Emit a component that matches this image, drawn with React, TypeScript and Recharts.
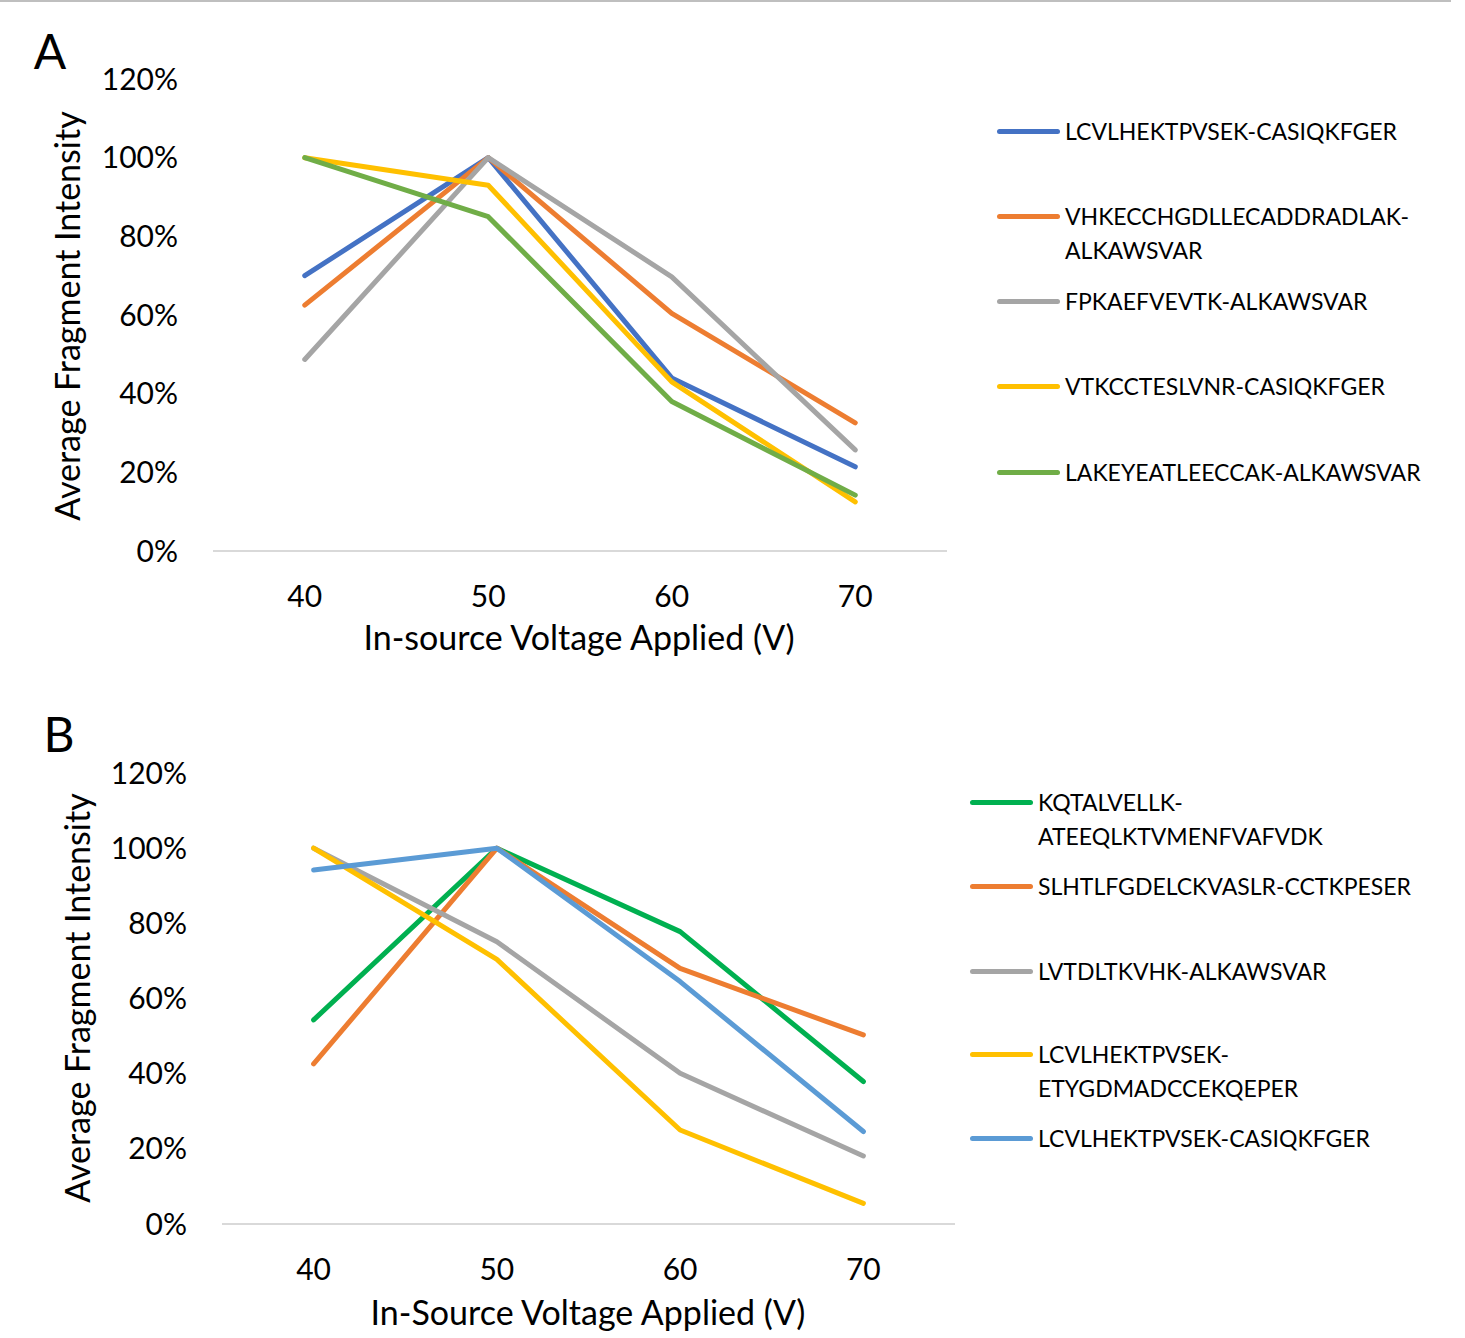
import React from 'react';
import { LineChart, Line, XAxis, YAxis } from 'recharts';

// ---------- DATA ----------
const voltages = [40, 50, 60, 70];
const yTicks = [0, 0.2, 0.4, 0.6, 0.8, 1.0, 1.2];

const namesA = [
  'LCVLHEKTPVSEK-CASIQKFGER',
  'VHKECCHGDLLECADDRADLAK-ALKAWSVAR',
  'FPKAEFVEVTK-ALKAWSVAR',
  'VTKCCTESLVNR-CASIQKFGER',
  'LAKEYEATLEECCAK-ALKAWSVAR',
];
const legendLinesA = [
  ['LCVLHEKTPVSEK-CASIQKFGER'],
  ['VHKECCHGDLLECADDRADLAK-', 'ALKAWSVAR'],
  ['FPKAEFVEVTK-ALKAWSVAR'],
  ['VTKCCTESLVNR-CASIQKFGER'],
  ['LAKEYEATLEECCAK-ALKAWSVAR'],
];
const colorsA = ['#4472C4', '#ED7D31', '#A5A5A5', '#FFC000', '#70AD47'];
const a1 = [0.70, 1.0, 0.44, 0.214];
const a2 = [0.625, 1.0, 0.604, 0.326];
const a3 = [0.487, 1.0, 0.697, 0.257];
const a4 = [1.0, 0.93, 0.43, 0.125];
const a5 = [1.0, 0.85, 0.38, 0.142];
const seriesA = [a1, a2, a3, a4, a5];

const namesB = [
  'KQTALVELLK-ATEEQLKTVMENFVAFVDK',
  'SLHTLFGDELCKVASLR-CCTKPESER',
  'LVTDLTKVHK-ALKAWSVAR',
  'LCVLHEKTPVSEK-ETYGDMADCCEKQEPER',
  'LCVLHEKTPVSEK-CASIQKFGER',
];
const legendLinesB = [
  ['KQTALVELLK-', 'ATEEQLKTVMENFVAFVDK'],
  ['SLHTLFGDELCKVASLR-CCTKPESER'],
  ['LVTDLTKVHK-ALKAWSVAR'],
  ['LCVLHEKTPVSEK-', 'ETYGDMADCCEKQEPER'],
  ['LCVLHEKTPVSEK-CASIQKFGER'],
];
const colorsB = ['#00B050', '#ED7D31', '#A5A5A5', '#FFC000', '#5B9BD5'];
const b1 = [0.543, 1.0, 0.778, 0.379];
const b2 = [0.426, 1.0, 0.68, 0.503];
const b3 = [1.0, 0.751, 0.401, 0.181];
const b4 = [1.0, 0.704, 0.25, 0.055];
const b5 = [0.942, 1.0, 0.645, 0.246];
const seriesB = [b1, b2, b3, b4, b5];

const xTitleA = 'In-source Voltage Applied (V)';
const xTitleB = 'In-Source Voltage Applied (V)';
const yTitle = 'Average Fragment Intensity';

// ---------- helpers ----------
const buildRows = (series: number[][]) =>
  voltages.map((v, i) => {
    const row: any = { v };
    series.forEach((s, k) => (row['s' + k] = s[i]));
    return row;
  });

const FONT = 'Lato, "Open Sans", sans-serif';
const pct = (v: number) => `${Math.round(v * 100)}%`;

type PanelProps = {
  top: number;
  height: number;
  plotLeft: number;
  plotRight: number;
  plotTop: number;
  plotBottom: number;
  series: number[][];
  names: string[];
  colors: string[];
};

function Panel({ top, height, plotLeft, plotRight, plotTop, plotBottom, series, names, colors }: PanelProps) {
  const W = 1465;
  const xAxisH = 70;
  const data = buildRows(series);
  const bandHalf = (plotRight - plotLeft) / voltages.length / 2;
  return (
    <div style={{ position: 'absolute', left: 0, top }}>
      <LineChart
        width={W}
        height={height}
        data={data}
        margin={{ top: plotTop, left: 0, right: W - plotRight, bottom: height - plotBottom - xAxisH }}
      >
        <XAxis
          dataKey="v"
          height={xAxisH}
          padding={{ left: bandHalf, right: bandHalf }}
          axisLine={{ stroke: '#D9D9D9', strokeWidth: 2 }}
          tickLine={false}
          tickSize={0}
          tickMargin={35}
          tick={{ fill: '#000', fontSize: 30, fontFamily: FONT }}
        />
        <YAxis
          width={plotLeft}
          domain={[0, 1.2]}
          ticks={yTicks}
          tickFormatter={pct}
          axisLine={false}
          tickLine={false}
          tickSize={0}
          tickMargin={35}
          tick={{ fill: '#000', fontSize: 30, fontFamily: FONT }}
        />
        {series.map((_, k) => (
          <Line
            key={k}
            dataKey={'s' + k}
            name={names[k]}
            stroke={colors[k]}
            strokeWidth={5}
            strokeLinecap="round"
            strokeLinejoin="round"
            dot={false}
            isAnimationActive={false}
          />
        ))}
      </LineChart>
    </div>
  );
}

function LegendBlock({ left, rowYs, lines, colors }: { left: number; rowYs: number[]; lines: string[][]; colors: string[] }) {
  const lh = 34;
  return (
    <>
      {lines.map((ls, k) => (
        <div key={k} style={{ position: 'absolute', left, top: rowYs[k] - lh / 2, display: 'flex', alignItems: 'flex-start' }}>
          <div style={{ width: 63, height: lh, position: 'relative' }}>
            <div style={{ position: 'absolute', left: 0, top: lh / 2 - 2.5, width: 63, height: 5, borderRadius: 3, background: colors[k] }} />
          </div>
          <div style={{ marginLeft: 5, fontFamily: FONT, fontSize: 23, lineHeight: lh + 'px', color: '#000', whiteSpace: 'nowrap' }}>
            {ls.map((t, i) => (
              <div key={i}>{t}</div>
            ))}
          </div>
        </div>
      ))}
    </>
  );
}

const centerText = (x: number, y: number, text: string, size: number, rotate = false) => (
  <div
    style={{
      position: 'absolute',
      left: x,
      top: y,
      transform: `translate(-50%, -50%)${rotate ? ' rotate(-90deg)' : ''}`,
      fontFamily: FONT,
      fontSize: size,
      lineHeight: 1,
      whiteSpace: 'nowrap',
      color: '#000',
    }}
  >
    {text}
  </div>
);

export default function App() {
  return (
    <div style={{ position: 'absolute', left: 0, top: 0, width: 1465, height: 1338, background: '#fff', overflow: 'hidden' }}>
      <div style={{ position: 'absolute', left: 0, top: 0, width: 1451, height: 2, background: '#BFBFBF' }} />

      <Panel top={0} height={680} plotLeft={213} plotRight={947} plotTop={79} plotBottom={551}
        series={seriesA} names={namesA} colors={colorsA} />
      <Panel top={690} height={648} plotLeft={222} plotRight={955} plotTop={83} plotBottom={534}
        series={seriesB} names={namesB} colors={colorsB} />

      {centerText(50, 51, 'A', 48)}
      {centerText(59, 734, 'B', 48)}
      {centerText(579, 637, xTitleA, 34)}
      {centerText(588, 1312, xTitleB, 34)}
      {centerText(67, 316, yTitle, 34, true)}
      {centerText(77, 998, yTitle, 34, true)}

      <LegendBlock left={997} rowYs={[131, 216, 301, 386, 472]} lines={legendLinesA} colors={colorsA} />
      <LegendBlock left={970} rowYs={[802, 886, 971, 1054, 1138]} lines={legendLinesB} colors={colorsB} />
    </div>
  );
}
